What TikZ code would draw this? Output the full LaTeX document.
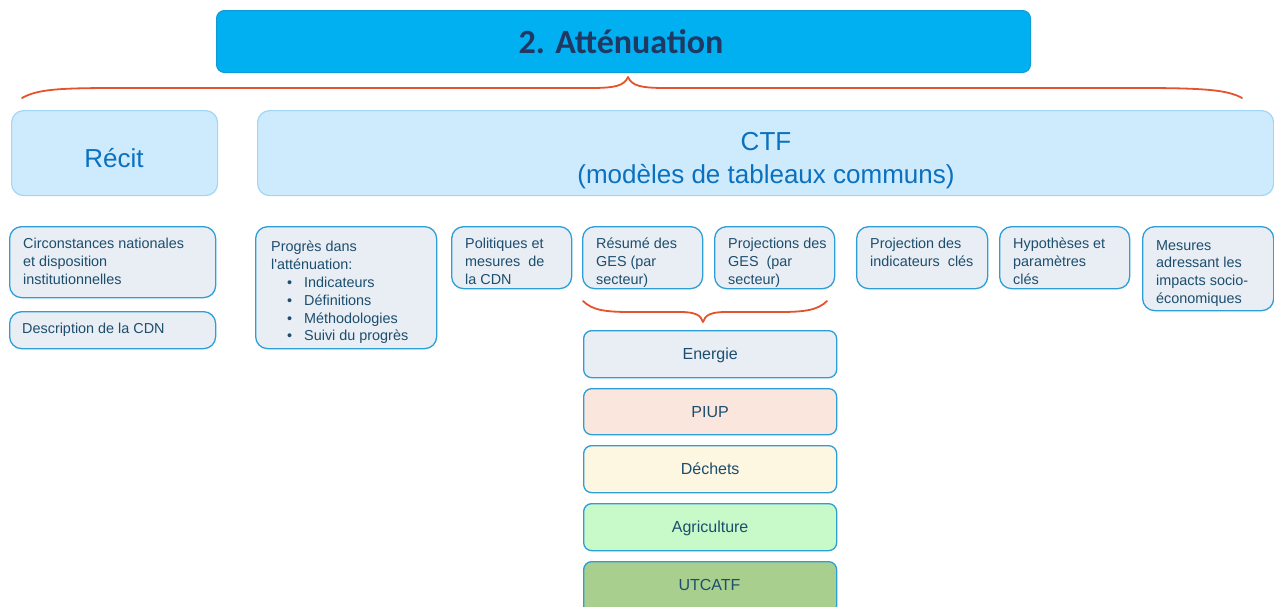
\documentclass[tikz,border=0pt]{standalone}
\usepackage{fontspec}
\setmainfont{Liberation Sans}
\newfontfamily\titlefont{Carlito}
\definecolor{titlefill}{HTML}{00B0F0}
\definecolor{titledraw}{HTML}{0B9BD5}
\definecolor{titletext}{HTML}{203864}
\definecolor{bigfill}{HTML}{CDEBFC}
\definecolor{bigdraw}{HTML}{A3D5F7}
\definecolor{bigtext}{HTML}{0B70BF}
\definecolor{smfill}{HTML}{E9EDF4}
\definecolor{smdraw}{HTML}{2C9ED8}
\definecolor{smtext}{HTML}{1C4E6E}
\definecolor{bracecol}{HTML}{E4532B}
\definecolor{piupfill}{HTML}{FBE6DE}
\definecolor{dechfill}{HTML}{FDF6E1}
\definecolor{agrifill}{HTML}{C8F9C8}
\definecolor{utcfill}{HTML}{A8CF8D}
\begin{document}
\begin{tikzpicture}[x=1pt,y=-1pt,
  titlebox/.style={draw=titledraw,fill=titlefill,line width=1pt,rounded corners=8pt,inner sep=0pt,anchor=north west},
  bigbox/.style={draw=bigdraw,fill=bigfill,line width=1.2pt,rounded corners=12pt,inner sep=0pt,anchor=north west},
  smbox/.style={draw=smdraw,fill=smfill,line width=1.3pt,rounded corners=12pt,inner sep=0pt,anchor=north west},
  secbox/.style={draw=smdraw,line width=1.3pt,rounded corners=8pt,inner sep=0pt,anchor=north west,
    minimum width=253pt,text=smtext,font=\fontsize{16}{19}\selectfont,text height=11.5pt,text depth=0pt},
  bigtxt/.style={text=bigtext,font=\fontsize{26}{33}\selectfont,align=center,inner sep=0pt},
  smtxt/.style={text=smtext,font=\fontsize{14.4}{17.8}\selectfont,align=left,inner sep=0pt,anchor=north west},
  bracestyle/.style={draw=bracecol,line width=1.8pt,line cap=round,line join=round}
]
\useasboundingbox (0,0) rectangle (1274,606);

% title
\node[titlebox,minimum width=814pt,minimum height=62pt] (title) at (216,10) {};
\node[anchor=base,text=titletext,font=\titlefont\bfseries\fontsize{34}{40}\selectfont,inner sep=0pt] (titlet) at (621,53) {2. Atténuation};

% top brace
\coordinate (tbl) at (22,98);
\coordinate (tbtip) at (628,77);
\coordinate (tbr) at (1242,98);
\draw[bracestyle] (tbl) .. controls (38,89) and (60,88) .. (120,88) -- (590,88)
  .. controls (615,88) and (624,86) .. (tbtip)
  .. controls (632,86) and (641,88) .. (666,88) -- (1140,88)
  .. controls (1205,88) and (1228,90) .. (tbr);

% big boxes
\node[bigbox,minimum width=206pt,minimum height=85pt] (recit) at (11,110) {};
\node[bigtxt,anchor=base] (recitt) at (114,167) {Récit};
\node[bigbox,minimum width=1016pt,minimum height=85pt] (ctf) at (257,110) {};
\node[bigtxt,anchor=north] (ctft) at (766,132) {CTF\\(modèles de tableaux communs)};

% small boxes
\node[smbox,minimum width=206pt,minimum height=71pt] (circ) at (9,226) {};
\node[smtxt] (circt) at (23,238) {Circonstances nationales\\et disposition\\institutionnelles};

\node[smbox,minimum width=206pt,minimum height=37pt] (desc) at (9,311) {};
\node[smtxt] (desct) at (22,323) {Description de la CDN};

\node[smbox,minimum width=181pt,minimum height=122pt] (prog) at (255,226) {};
\node[smtxt] (progt) at (271,241) {Progrès dans\\l\textquotesingle atténuation:\\
  \hspace*{16pt}\makebox[17pt][l]{•}Indicateurs\\
  \hspace*{16pt}\makebox[17pt][l]{•}Définitions\\
  \hspace*{16pt}\makebox[17pt][l]{•}Méthodologies\\
  \hspace*{16pt}\makebox[17pt][l]{•}Suivi du progrès};

\node[smbox,minimum width=120pt,minimum height=62pt] (pol) at (451,226) {};
\node[smtxt] (polt) at (465,238) {Politiques et\\mesures~~de\\la CDN};

\node[smbox,minimum width=120pt,minimum height=62pt] (res) at (582,226) {};
\node[smtxt] (rest) at (596,238) {Résumé des\\GES (par\\secteur)};

\node[smbox,minimum width=120pt,minimum height=62pt] (proj) at (714,226) {};
\node[smtxt] (projt) at (728,238) {Projections des\\GES~~(par\\secteur)};

\node[smbox,minimum width=131pt,minimum height=62pt] (pind) at (856,226) {};
\node[smtxt] (pindt) at (870,238) {Projection des\\indicateurs~~clés};

\node[smbox,minimum width=130pt,minimum height=62pt] (hyp) at (999,226) {};
\node[smtxt] (hypt) at (1013,238) {Hypothèses et\\paramètres\\clés};

\node[smbox,minimum width=131pt,minimum height=84pt] (mes) at (1142,226) {};
\node[smtxt] (mest) at (1156,240) {Mesures\\adressant les\\impacts socio-\\économiques};

% lower brace
\coordinate (lbl) at (583,301);
\coordinate (lbtip) at (703,322);
\coordinate (lbr) at (827,301);
\draw[bracestyle] (lbl) .. controls (592,310) and (605,312) .. (630,312) -- (680,312)
  .. controls (695,312) and (701,315) .. (lbtip)
  .. controls (705,315) and (711,312) .. (726,312) -- (780,312)
  .. controls (805,312) and (818,310) .. (lbr);

% sector boxes
\node[secbox,fill=smfill,minimum height=47pt] (energie) at (583,330) {Energie};
\node[secbox,fill=piupfill,minimum height=46pt] (piup) at (583,388) {PIUP};
\node[secbox,fill=dechfill,minimum height=47pt] (dechets) at (583,445) {Déchets};
\node[secbox,fill=agrifill,minimum height=47pt] (agri) at (583,503) {Agriculture};
\node[secbox,fill=utcfill,minimum height=52pt] (utcatf) at (583,561) {};
\node[text=smtext,font=\fontsize{16}{19}\selectfont,anchor=base,inner sep=0pt] (utcatft) at (709.5,590) {UTCATF};
\end{tikzpicture}
\end{document}
